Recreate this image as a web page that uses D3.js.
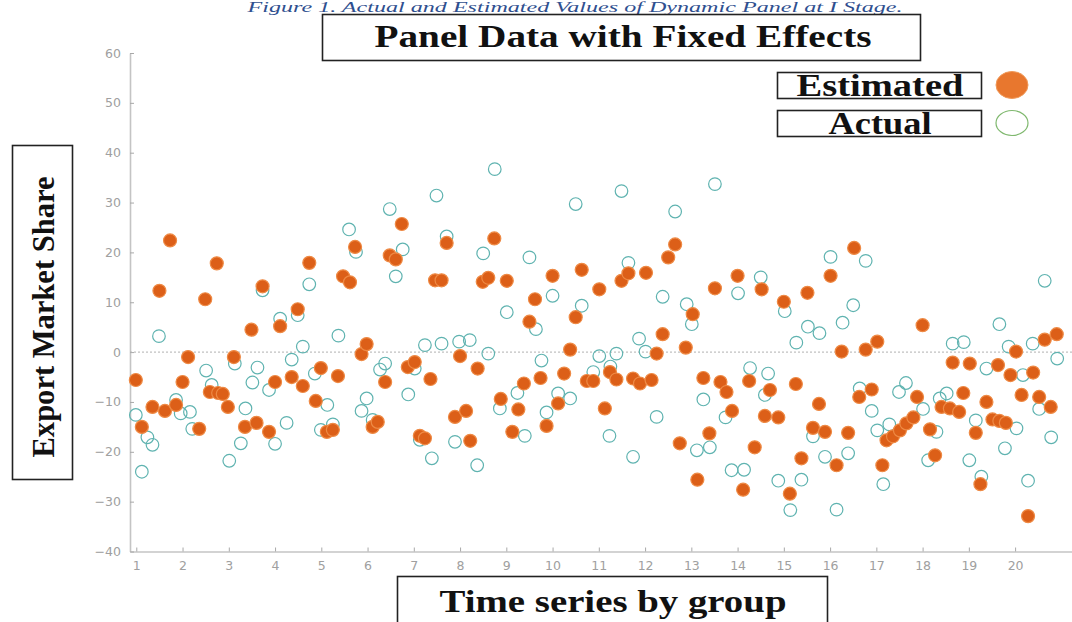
<!DOCTYPE html>
<html><head><meta charset="utf-8">
<script src="https://cdn.jsdelivr.net/npm/d3@7"></script>
<style>body{margin:0;background:#fff}svg{display:block}</style>
</head><body>
<svg id="c" width="1072" height="622"></svg>
<script>
const xTicks = [1,2,3,4,5,6,7,8,9,10,11,12,13,14,15,16,17,18,19,20];
const yTicks = [-40,-30,-20,-10,0,10,20,30,40,50,60];

const estX = [0.99,1.12,1.35,1.50,1.62,1.73,1.86,2.00,2.12,2.36,2.49,2.59,2.74,2.77,2.87,2.98,
3.11,3.35,3.49,3.60,3.73,3.87,4.00,4.11,4.36,4.49,4.60,4.74,4.88,4.99,5.12,5.25,5.36,5.47,5.62,5.73,5.87,
5.98,6.11,6.22,6.38,6.48,6.61,6.74,6.87,7.02,7.13,7.24,7.36,7.46,7.60,7.71,7.89,8.00,8.13,8.22,8.38,8.49,
8.61,8.74,8.88,9.01,9.13,9.26,9.38,9.50,9.62,9.74,9.87,10.00,10.12,10.25,10.38,10.50,10.63,10.74,10.88,
11.01,11.13,11.24,11.38,11.49,11.64,11.74,11.89,12.02,12.14,12.25,12.38,12.50,12.65,12.75,12.88,13.03,
13.13,13.26,13.39,13.51,13.63,13.76,13.88,14.00,14.12,14.25,14.37,14.52,14.59,14.70,14.88,15.00,15.13,
15.26,15.38,15.51,15.63,15.76,15.89,16.01,16.14,16.25,16.39,16.52,16.63,16.77,16.90,17.02,17.13,17.22,
17.36,17.51,17.65,17.80,17.88,18.00,18.16,18.27,18.41,18.59,18.65,18.79,18.88,19.02,19.15,19.25,19.38,
19.51,19.63,19.66,19.80,19.90,20.02,20.14,20.28,20.39,20.52,20.64,20.77,20.90];
const estY = [-5.6,-15,-11,12.3,-11.8,22.4,-10.6,-6,-1,-15.4,10.6,-8,17.8,-8.2,-8.4,-11,
-1,-15,4.5,-14.2,13.2,-16,-6,5.2,-5,8.6,-6.8,17.9,-9.8,-3.2,-16,-15.6,-4.8,15.2,14,21.1,-0.4,
1.6,-15,-14,-6,19.4,18.6,25.7,-3,-2,-16.8,-17.3,-5.4,14.4,14.4,21.9,-13,-0.8,-11.8,-17.8,-3.3,14.1,
14.9,22.8,-9.4,14.3,-16,-11.5,-6.3,6.1,10.6,-5.2,-14.8,15.3,-10.3,-4.3,0.5,7.0,16.5,-5.8,-5.8,
12.6,-11.3,-4.0,-5.5,14.3,15.8,-5.3,-6.3,15.9,-5.6,-0.3,3.6,19.0,21.6,-18.3,0.9,7.6,
-25.6,-5.2,-16.3,12.8,-6.0,-8.0,-11.8,15.3,-27.6,-5.8,-19.1,12.6,-12.8,-7.6,-13.1,10.1,-28.4,
-6.4,-21.3,11.9,-15.2,-10.4,-16.0,15.3,-22.7,0.1,-16.2,20.9,-9.0,0.5,-7.5,2.1,-22.7,-17.7,
-16.9,-15.7,-14.3,-13.1,-9.0,5.4,-15.5,-20.7,-11.0,-11.3,-2.1,-12.0,-8.2,-2.3,-16.2,-26.5,-10.0,
-13.5,-2.6,-13.8,-14.2,-4.6,0.1,-8.6,-32.9,-4.1,-9.0,2.5,-11.0,3.6];

const actX = [0.99,1.12,1.24,1.35,1.49,1.86,1.96,2.16,2.21,2.51,2.63,3.01,3.13,3.26,3.36,3.51,3.62,
3.73,3.87,4.00,4.11,4.25,4.36,4.49,4.60,4.74,4.86,4.99,5.13,5.25,5.37,5.60,5.75,5.87,5.98,6.11,6.27,
6.38,6.48,6.61,6.76,6.88,7.02,7.13,7.24,7.39,7.49,7.60,7.71,7.89,7.98,8.21,8.37,8.50,8.61,8.75,8.86,
9.01,9.24,9.40,9.50,9.64,9.76,9.87,10.00,10.12,10.38,10.50,10.63,10.88,11.01,11.23,11.25,11.38,11.49,
11.64,11.74,11.87,12.01,12.25,12.38,12.65,12.90,13.01,13.12,13.26,13.40,13.51,13.74,13.87,14.01,14.14,
14.27,14.50,14.59,14.66,14.88,15.02,15.14,15.27,15.38,15.52,15.63,15.77,15.89,16.01,16.14,16.27,16.39,
16.50,16.64,16.77,16.90,17.02,17.15,17.28,17.49,17.64,18.01,18.12,18.30,18.37,18.52,18.65,18.89,19.01,
19.15,19.27,19.38,19.66,19.78,19.86,20.03,20.17,20.28,20.38,20.52,20.64,20.78,20.91];
const actY = [-12.6,-24,-17.1,-18.6,3.2,-9.6,-12.3,-12,-15.4,-3.7,-6.6,-21.8,-2.3,-18.3,-11.3,-6.1,-3.1,
12.4,-7.6,-18.4,6.7,-14.2,-1.5,7.4,1.1,13.6,-4.3,-15.6,-10.6,-14.5,3.3,24.6,20.1,-11.8,-9.3,-13.6,-3.5,
-2.3,28.7,15.2,20.6,-8.5,-3.3,-17.6,1.4,-21.3,31.4,1.7,23.2,-18,2.1,2.4,-22.7,19.8,-0.3,36.7,-11.3,
8.0,-8.2,-16.8,19.0,4.6,-1.7,-12.1,11.3,-8.3,-9.3,29.7,9.3,-4.0,-0.8,-16.8,-2.9,-0.3,32.3,
17.9,-21.0,2.7,0.1,-13.0,11.1,28.2,9.6,5.6,-19.7,-9.5,-19.1,33.7,-13.1,-23.7,11.8,-23.6,
-3.2,15.0,-8.6,-4.3,-25.8,8.2,-31.7,1.9,-25.6,5.1,-16.9,3.8,-21.0,19.1,-31.6,5.9,-20.3,
9.4,-7.3,18.3,-11.8,-15.7,-26.5,-14.5,-8.0,-6.2,-11.4,-21.7,-16.0,-9.3,-8.3,1.7,2.0,-21.7,
-13.7,-25.0,-3.3,5.6,-19.3,1.1,-15.3,-4.6,-25.8,1.7,-11.4,14.3,-17.1,-1.3];

const estimated = estX.map((x,i)=>({x, y: estY[i]}));
const actual = actX.map((x,i)=>({x, y: actY[i]}));

const svg = d3.select("#c");
const serif = "'Liberation Serif','Times New Roman',serif";

const x = d3.scaleLinear().domain([0.864, 21.23]).range([130, 1072]);
const y = d3.scaleLinear().domain([-40, 60]).range([551.5, 53]);

// caption
svg.append("text").attr("x", 575).attr("y", 12).attr("text-anchor","middle")
  .attr("font-family", serif).attr("font-style","italic").attr("font-size", 15)
  .attr("fill", "#2f4f8f").attr("textLength", 655).attr("lengthAdjust","spacingAndGlyphs")
  .text("Figure 1. Actual and Estimated Values of Dynamic Panel at I Stage.");

// axes
const gx = svg.append("g").attr("transform", `translate(0,${y(-40)})`)
  .call(d3.axisBottom(x).tickValues(xTicks).tickSize(-4).tickSizeOuter(0).tickPadding(10).tickFormat(d3.format("d")));
const gy = svg.append("g").attr("transform", `translate(${x(0.864)},0)`)
  .call(d3.axisLeft(y).tickValues(yTicks).tickSize(-4).tickSizeOuter(0).tickPadding(9).tickFormat(d3.format("d")));
[gx, gy].forEach(g => {
  g.select(".domain").attr("stroke", "#c4c4c4").attr("stroke-width", 1.6);
  g.selectAll(".tick line").attr("stroke", "#a8a8a8");
  g.selectAll(".tick text").attr("fill", "#a0a0a0").attr("font-size", 12.5)
    .attr("font-family", "'DejaVu Sans',sans-serif");
});

// zero line
svg.append("line").attr("x1", x(0.864)).attr("x2", 1072).attr("y1", y(0)).attr("y2", y(0))
  .attr("stroke", "#b0b0b0").attr("stroke-width", 1).attr("stroke-dasharray", "2,2");

// points
svg.append("g").selectAll("circle").data(actual).join("circle")
  .attr("cx", d => x(d.x)).attr("cy", d => y(d.y)).attr("r", 6.3)
  .attr("fill", "none").attr("stroke", "#5fb3b0").attr("stroke-width", 1.2);
svg.append("g").selectAll("circle").data(estimated).join("circle")
  .attr("cx", d => x(d.x)).attr("cy", d => y(d.y)).attr("r", 6.5)
  .attr("fill", "#dc5f18").attr("stroke", "#ee8a45").attr("stroke-width", 1.2);

// title box
svg.append("rect").attr("x", 322.5).attr("y", 14.5).attr("width", 598).attr("height", 46)
  .attr("fill", "#fff").attr("stroke", "#222").attr("stroke-width", 1.6);
svg.append("text").attr("x", 623).attr("y", 47).attr("text-anchor","middle")
  .attr("font-family", serif).attr("font-weight","bold").attr("font-size", 31).attr("fill","#111")
  .attr("textLength", 497).attr("lengthAdjust","spacingAndGlyphs")
  .text("Panel Data with Fixed Effects");

// legend
const legend = [
  {label: "Estimated", y0: 72, tl: 167},
  {label: "Actual", y0: 110, tl: 103}
];
legend.forEach(d => {
  svg.append("rect").attr("x", 777.5).attr("y", d.y0 + 0.5).attr("width", 204).attr("height", 26)
    .attr("fill", "#fff").attr("stroke", "#222").attr("stroke-width", 1.6);
  svg.append("text").attr("x", 880).attr("y", d.y0 + 24).attr("text-anchor","middle")
    .attr("font-family", serif).attr("font-weight","bold").attr("font-size", 31).attr("fill","#111")
    .attr("textLength", d.tl).attr("lengthAdjust","spacingAndGlyphs").text(d.label);
});
svg.append("ellipse").attr("cx", 1012).attr("cy", 85).attr("rx", 16).attr("ry", 13.5)
  .attr("fill", "#e8772e").attr("stroke", "#f09a5a").attr("stroke-width", 1);
svg.append("ellipse").attr("cx", 1012).attr("cy", 123).attr("rx", 16).attr("ry", 12.5)
  .attr("fill", "none").attr("stroke", "#7fb86e").attr("stroke-width", 1.2);

// y label box
svg.append("rect").attr("x", 12.5).attr("y", 145.5).attr("width", 60).attr("height", 334)
  .attr("fill", "#fff").attr("stroke", "#222").attr("stroke-width", 1.6);
svg.append("text").attr("transform", "translate(54,317) rotate(-90)").attr("text-anchor","middle")
  .attr("font-family", serif).attr("font-weight","bold").attr("font-size", 31).attr("fill","#111")
  .attr("textLength", 281).attr("lengthAdjust","spacingAndGlyphs")
  .text("Export Market Share");

// x label box
svg.append("rect").attr("x", 397.5).attr("y", 576.5).attr("width", 430).attr("height", 60)
  .attr("fill", "#fff").attr("stroke", "#222").attr("stroke-width", 1.6);
svg.append("text").attr("x", 613).attr("y", 612).attr("text-anchor","middle")
  .attr("font-family", serif).attr("font-weight","bold").attr("font-size", 31).attr("fill","#111")
  .attr("textLength", 347).attr("lengthAdjust","spacingAndGlyphs")
  .text("Time series by group");
</script>
</body></html>
